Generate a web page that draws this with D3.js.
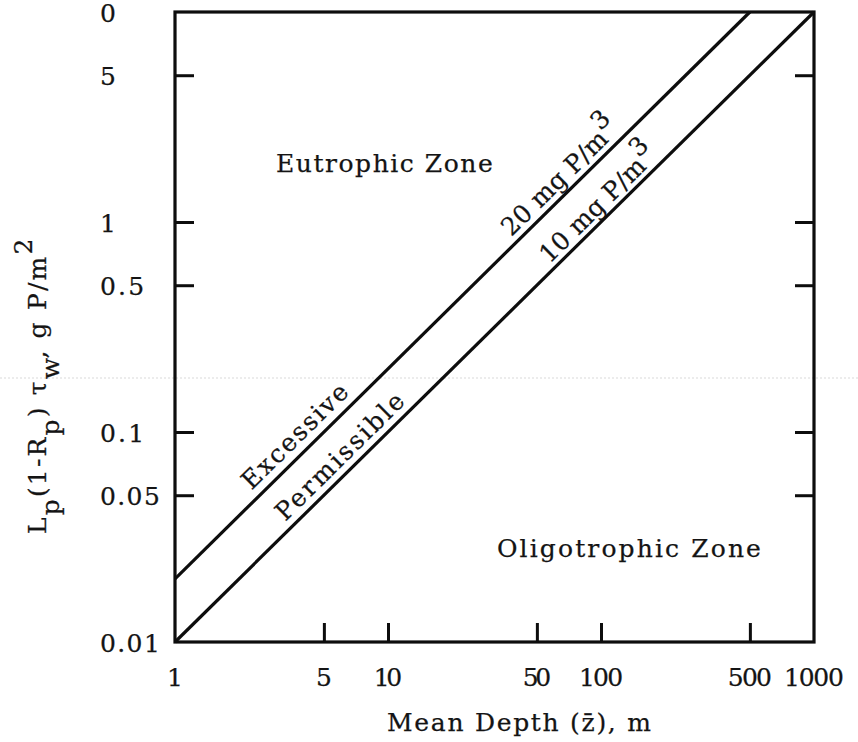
<!DOCTYPE html>
<html>
<head>
<meta charset="utf-8">
<script src="https://cdn.jsdelivr.net/npm/d3@7"></script>
<style>
  body { margin: 0; background: #fff; }
  text { font-family: "DejaVu Serif", "Liberation Serif", serif; font-size: 25px; fill: #141414;
         stroke: #141414; stroke-width: 0.25px; }
</style>
</head>
<body>
<svg id="chart" width="858" height="742"></svg>
<script>
// Mean depth axis (m)
const depthTickValues = [5, 10, 50, 100, 500];
const depthLabelValues = [1, 5, 10, 50, 100, 500, 1000];
const depthLabelTexts = ["1", "5", "10", "50", "100", "500", "1000"];

// Areal loading axis, L(1-R)tau (g P/m^2)
const loadTickValues = [5, 1, 0.5, 0.1, 0.05];
const loadLabelValues = [10, 5, 1, 0.5, 0.1, 0.05, 0.01];
const loadLabelTexts = ["0", "5", "1", "0.5", "0.1", "0.05", "0.01"];

// Critical loading lines: [mean depth, loading]
const excessiveDepth = [1, 500];
const excessiveLoad = [0.02, 10];
const permissibleDepth = [1, 1000];
const permissibleLoad = [0.01, 10];

const svg = d3.select("#chart");
const W = 858, H = 742;
const frame = { left: 175, right: 814, top: 12, bottom: 642 };
const pitch = 15.7;   // typewriter character advance

const x = d3.scaleLog().domain([1, 1000]).range([frame.left, frame.right]);
const y = d3.scaleLog().domain([0.01, 10]).range([frame.bottom, frame.top]);

// give a text the fixed-pitch width of a typed line
function typed(sel, str) {
  const n = [...str.replace(/\u0304/g, "")].length;
  if (n > 1) sel.attr("textLength", n * pitch - 3).attr("lengthAdjust", "spacing");
  return sel;
}

// faint scan streak
svg.append("line")
  .attr("x1", 0).attr("x2", W).attr("y1", 378).attr("y2", 378)
  .attr("stroke", "#d9d9d9").attr("stroke-width", 1).attr("stroke-dasharray", "2,2");

const ink = "#0d0d0d";
const tickLen = 19;

// plot frame
svg.append("rect")
  .attr("x", frame.left).attr("y", frame.top)
  .attr("width", frame.right - frame.left).attr("height", frame.bottom - frame.top)
  .attr("fill", "none").attr("stroke", ink).attr("stroke-width", 3.2);

// inward ticks: left and right for loading, bottom for depth
const axisLeft = d3.axisRight(y).tickValues(loadTickValues).tickSize(tickLen).tickFormat("");
const axisRight = d3.axisLeft(y).tickValues(loadTickValues).tickSize(tickLen).tickFormat("");
const axisBottom = d3.axisTop(x).tickValues(depthTickValues).tickSize(tickLen).tickFormat("");

function styleAxis(g) {
  g.select(".domain").remove();
  g.selectAll(".tick line").attr("stroke", ink).attr("stroke-width", 3);
}
svg.append("g").attr("transform", `translate(${frame.left},0)`).call(axisLeft).call(styleAxis);
svg.append("g").attr("transform", `translate(${frame.right},0)`).call(axisRight).call(styleAxis);
svg.append("g").attr("transform", `translate(0,${frame.bottom})`).call(axisBottom).call(styleAxis);

// tick labels
svg.append("g").selectAll("text")
  .data(loadLabelValues)
  .join("text")
  .attr("x", 100)
  .attr("y", d => y(d) + 10)
  .attr("text-anchor", "start")
  .text((d, i) => loadLabelTexts[i])
  .each(function (d, i) { typed(d3.select(this), loadLabelTexts[i]); });

svg.append("g").selectAll("text")
  .data(depthLabelValues)
  .join("text")
  .attr("x", d => x(d))
  .attr("y", 686)
  .attr("text-anchor", "middle")
  .text((d, i) => depthLabelTexts[i])
  .each(function (d, i) { typed(d3.select(this), depthLabelTexts[i]); });

// critical loading lines
const lineGen = d3.line().x(d => x(d[0])).y(d => y(d[1]));
const excessive = excessiveDepth.map((d, i) => [d, excessiveLoad[i]]);
const permissible = permissibleDepth.map((d, i) => [d, permissibleLoad[i]]);
[excessive, permissible].forEach(pts => {
  svg.append("path")
    .attr("d", lineGen(pts))
    .attr("fill", "none").attr("stroke", ink).attr("stroke-width", 3.2);
});

// labels along the lines
function lineAt(pts, z) {
  const [a, b] = pts;
  const t = Math.log(z / a[0]) / Math.log(b[0] / a[0]);
  const v = Math.exp(Math.log(a[1]) + t * Math.log(b[1] / a[1]));
  return [x(z), y(v)];
}
function angleOf(pts) {
  const [a, b] = pts;
  return Math.atan2(y(b[1]) - y(a[1]), x(b[0]) - x(a[0])) * 180 / Math.PI;
}
function alongLabel(pts, z, gap, parts) {
  const [px, py] = lineAt(pts, z);
  const t = svg.append("text")
    .attr("transform", `translate(${px},${py}) rotate(${angleOf(pts)})`)
    .attr("x", 0).attr("y", -gap);
  parts.forEach(p => {
    t.append("tspan").attr("dy", p.dy || 0).text(p.t);
  });
  typed(t, parts.map(p => p.t).join(""));
}
alongLabel(excessive, 2.45, 9, [{ t: "Excessive" }]);
alongLabel(permissible, 3.5, 8, [{ t: "Permissible" }]);
alongLabel(excessive, 40, 7, [{ t: "20 mg P/m" }, { t: "3", dy: -13 }]);
alongLabel(permissible, 60, 6, [{ t: "10 mg P/m" }, { t: "3", dy: -13 }]);

// zone labels
typed(svg.append("text").attr("x", 276).attr("y", 172).text("Eutrophic Zone"), "Eutrophic Zone");
typed(svg.append("text").attr("x", 497).attr("y", 557).text("Oligotrophic Zone"), "Oligotrophic Zone");

// axis titles
const xTitleText = "Mean Depth (z\u0304), m";
typed(svg.append("text").attr("x", 387).attr("y", 731).text(xTitleText), xTitleText);

const yTitle = svg.append("text")
  .attr("transform", "translate(46,534) rotate(-90)");
const yTitleParts = [
  { t: "L" }, { t: "p", dy: 13 }, { t: "(1-R", dy: -13 }, { t: "p", dy: 13 },
  { t: ") \u03c4", dy: -13 }, { t: "w", dy: 13 }, { t: ", g P/m", dy: -13 }, { t: "2", dy: -14 }
];
yTitleParts.forEach(p => yTitle.append("tspan").attr("dy", p.dy || 0).text(p.t));
typed(yTitle, yTitleParts.map(p => p.t).join(""));
</script>
</body>
</html>
